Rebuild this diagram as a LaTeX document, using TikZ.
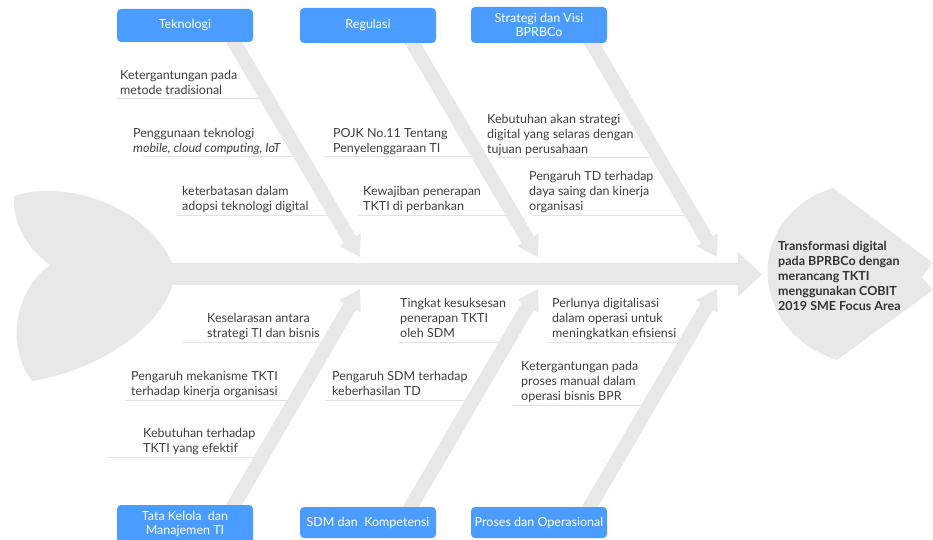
\documentclass[tikz,border=0pt]{standalone}
\usepackage{fontspec}
\setmainfont{Lato}
\usetikzlibrary{calc}
\definecolor{bonegray}{RGB}{232,232,232}
\definecolor{boxblue}{RGB}{74,157,255}
\definecolor{linegray}{RGB}{226,226,226}
\definecolor{txt}{RGB}{62,62,62}
\definecolor{headtxt}{RGB}{51,51,51}
\newcommand\fishbone[2]{%
  \coordinate (fbB) at ($(#2)!20pt!(#1)$);
  \draw[bonegray,line width=14pt] (#1) -- (fbB);
  \fill[bonegray] (#2) -- ($(fbB)!12.5pt!90:(#2)$) -- ($(fbB)!12.5pt!-90:(#2)$) -- cycle;}
\begin{document}
\begin{tikzpicture}[x=1pt,y=-1pt,
  lbl/.style={anchor=north west,inner sep=0pt,align=left,text=txt,font=\fontsize{12.5}{15}\selectfont},
  headlbl/.style={anchor=north west,inner sep=0pt,align=left,text=headtxt,font=\fontsize{12.5}{15}\selectfont\bfseries},
  cat/.style={fill=boxblue,rounded corners=4pt,text=white,font=\fontsize{12.5}{14}\selectfont,align=center,minimum width=136pt,inner sep=0pt},
  uline/.style={draw=linegray,line width=1pt}]
\useasboundingbox (0,0) rectangle (933,540);
\clip (0,0) rectangle (933,540);
% tail
\fill[bonegray] (172,263) .. controls (150,210) and (70,178) .. (14,196)
  .. controls (12,228) and (32,252) .. (50,265)
  .. controls (15,290) and (5,345) .. (32,381)
  .. controls (90,372) and (155,335) .. (172,287) -- cycle;
% spine
\fill[bonegray] (170,263) rectangle (740,285);
\fill[bonegray] (738,252) -- (762,274.5) -- (738,297) -- cycle;
% head
\fill[bonegray] (833,188) -- (933,263) -- (922,277) -- (933,290) -- (837,360)
  .. controls (745,330) and (745,215) .. (833,188) -- cycle;
% underlines
\coordinate (u1a) at (117,99);  \coordinate (u1b) at (267,99);
\coordinate (u2a) at (143,157); \coordinate (u2b) at (301,157);
\coordinate (u3a) at (178,215); \coordinate (u3b) at (335,215);
\coordinate (u4a) at (323,157); \coordinate (u4b) at (479,157);
\coordinate (u5a) at (358,215); \coordinate (u5b) at (513,215);
\coordinate (u6a) at (497,158); \coordinate (u6b) at (659,158);
\coordinate (u7a) at (532,215); \coordinate (u7b) at (692,215);
\coordinate (u8a) at (182,342); \coordinate (u8b) at (329,342);
\coordinate (u9a) at (125,400); \coordinate (u9b) at (295,400);
\coordinate (u10a) at (108,457); \coordinate (u10b) at (262,457);
\coordinate (u11a) at (398,342); \coordinate (u11b) at (507,342);
\coordinate (u12a) at (325,400); \coordinate (u12b) at (473,400);
\coordinate (u13a) at (547,342); \coordinate (u13b) at (686,342);
\coordinate (u14a) at (513,405); \coordinate (u14b) at (649,405);
\foreach \i in {1,...,14} {\draw[uline] (u\i a) -- (u\i b);}
% bones
\coordinate (sTek) at (227,30);  \coordinate (tTek) at (360,257);
\coordinate (sReg) at (405,30);  \coordinate (tReg) at (538,257);
\coordinate (sStr) at (584,30);  \coordinate (tStr) at (717,257);
\coordinate (sTat) at (228,515); \coordinate (tTat) at (360,289);
\coordinate (sSdm) at (406,515); \coordinate (tSdm) at (538,289);
\coordinate (sPro) at (585,515); \coordinate (tPro) at (717,289);
\fishbone{sTek}{tTek}
\fishbone{sReg}{tReg}
\fishbone{sStr}{tStr}
\fishbone{sTat}{tTat}
\fishbone{sSdm}{tSdm}
\fishbone{sPro}{tPro}
% category boxes
\node[cat,minimum height=33pt] (bTek) at (185,25.5) {Teknologi};
\node[cat,minimum height=35pt] (bReg) at (368,25.5) {Regulasi};
\node[cat,minimum height=36pt] (bStr) at (539,25) {Strategi dan Visi\\BPRBCo};
\node[cat,minimum height=38pt] (bTat) at (185,524) {Tata Kelola\ \ dan\\Manajemen TI};
\node[cat,minimum height=31pt] (bSdm) at (368,522.5) {SDM dan\ \ Kompetensi};
\node[cat,minimum height=31pt] (bPro) at (539,522.5) {Proses dan Operasional};
% labels
\node[lbl] (l1) at (120,70) {Ketergantungan pada\\metode tradisional};
\node[lbl] (l2) at (133,128) {Penggunaan teknologi\\\textit{mobile, cloud computing, IoT}};
\node[lbl] (l3) at (182,186) {keterbatasan dalam\\adopsi teknologi digital};
\node[lbl] (l4) at (333,128) {POJK No.11 Tentang\\Penyelenggaraan TI};
\node[lbl] (l5) at (363,186) {Kewajiban penerapan\\TKTI di perbankan};
\node[lbl] (l6) at (487,114) {Kebutuhan akan strategi\\digital yang selaras dengan\\tujuan perusahaan};
\node[lbl] (l7) at (529,171) {Pengaruh TD terhadap\\daya saing dan kinerja\\organisasi};
\node[lbl] (l8) at (207,313) {Keselarasan antara\\strategi TI dan bisnis};
\node[lbl] (l9) at (131,371) {Pengaruh mekanisme TKTI\\terhadap kinerja organisasi};
\node[lbl] (l10) at (143,428) {Kebutuhan terhadap\\TKTI yang efektif};
\node[lbl] (l11) at (400,298) {Tingkat kesuksesan\\penerapan TKTI\\oleh SDM};
\node[lbl] (l12) at (332,371) {Pengaruh SDM terhadap\\keberhasilan TD};
\node[lbl] (l13) at (552,298) {Perlunya digitalisasi\\dalam operasi untuk\\meningkatkan efisiensi};
\node[lbl] (l14) at (521,361) {Ketergantungan pada\\proses manual dalam\\operasi bisnis BPR};
\node[headlbl] (head) at (778,241) {Transformasi digital\\pada BPRBCo dengan\\merancang TKTI\\menggunakan COBIT\\2019 SME Focus Area};
\end{tikzpicture}
\end{document}
